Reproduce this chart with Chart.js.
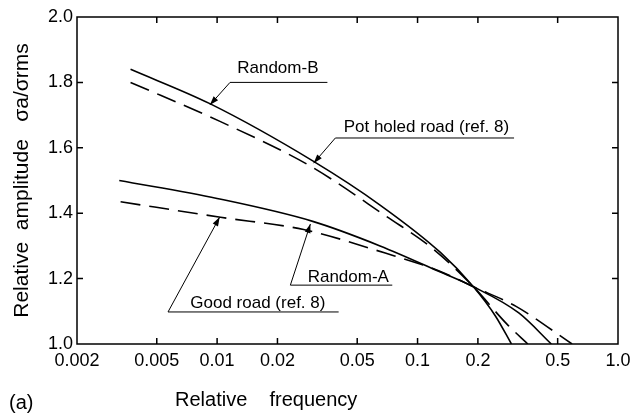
<!DOCTYPE html>
<html>
<head>
<meta charset="utf-8">
<script src="https://cdn.jsdelivr.net/npm/chart.js@4.4.1/dist/chart.umd.min.js"></script>
<style>
  html, body { margin: 0; padding: 0; background: #fff; }
  #wrap { width: 633px; height: 414px; }
</style>
</head>
<body>
<div id="wrap"><canvas id="myChart" width="633" height="414"></canvas></div>
<script>
// axis ticks
const xTicks = [0.002, 0.005, 0.01, 0.02, 0.05, 0.1, 0.2, 0.5, 1.0];
const xTickLabels = ['0.002', '0.005', '0.01', '0.02', '0.05', '0.1', '0.2', '0.5', '1.0'];
const yTicks = [1.0, 1.2, 1.4, 1.6, 1.8, 2.0];
const yTickLabels = ['1.0', '1.2', '1.4', '1.6', '1.8', '2.0'];

// curves
const randomB_x = [0.0037, 0.0092, 0.030, 0.065, 0.13, 0.19, 0.245, 0.294];
const randomB_y = [1.84, 1.735, 1.56, 1.425, 1.28, 1.175, 1.085, 1.0];
const potholed_x = [0.0037, 0.0104, 0.029, 0.07, 0.12, 0.19, 0.28, 0.355];
const potholed_y = [1.80, 1.68, 1.545, 1.39, 1.29, 1.175, 1.06, 1.0];
const randomA_x = [0.00325, 0.01, 0.030, 0.065, 0.13, 0.19, 0.32, 0.465];
const randomA_y = [1.50, 1.445, 1.375, 1.30, 1.22, 1.175, 1.095, 1.0];
const goodroad_x = [0.0033, 0.0104, 0.027, 0.069, 0.13, 0.19, 0.31, 0.59];
const goodroad_y = [1.435, 1.3875, 1.35, 1.278, 1.222, 1.175, 1.115, 1.0];

// callouts (data units)
const noteText = ['Random-B', 'Pot holed road (ref. 8)', 'Random-A', 'Good road (ref. 8)'];
const noteTextX = [0.0126, 0.0428, 0.0283, 0.00735];
const noteTextY = [1.844, 1.664, 1.205, 1.125];
const noteLineX0 = [0.0116, 0.0389, 0.0232, 0.00569];
const noteLineX1 = [0.0355, 0.303, 0.0748, 0.0404];
const noteLineY = [1.80, 1.63, 1.18, 1.098];
const noteTipX = [0.0092, 0.0303, 0.0292, 0.0103];
const noteTipY = [1.731, 1.553, 1.367, 1.388];

function pts(xs, ys) {
  return xs.map((v, i) => ({x: v, y: ys[i]}));
}

const FONT = '"Liberation Sans", Arial, sans-serif';

const frameAndNotes = {
  id: 'frameAndNotes',
  afterDatasetsDraw(chart) {
    const ctx = chart.ctx;
    const a = chart.chartArea;
    const x = chart.scales.x, y = chart.scales.y;
    ctx.save();
    ctx.strokeStyle = '#000';
    ctx.fillStyle = '#000';
    ctx.lineWidth = 1.5;
    ctx.strokeRect(a.left, a.top, a.right - a.left, a.bottom - a.top);

    // inward ticks on all sides
    ctx.beginPath();
    xTicks.slice(1, -1).forEach(function(v) {
      const px = x.getPixelForValue(v);
      ctx.moveTo(px, a.bottom); ctx.lineTo(px, a.bottom - 6);
      ctx.moveTo(px, a.top); ctx.lineTo(px, a.top + 6);
    });
    yTicks.slice(1, -1).forEach(function(v) {
      const py = y.getPixelForValue(v);
      ctx.moveTo(a.left, py); ctx.lineTo(a.left + 6, py);
      ctx.moveTo(a.right, py); ctx.lineTo(a.right - 6, py);
    });
    ctx.stroke();

    // callouts
    ctx.lineWidth = 1;
    ctx.font = '17px ' + FONT;
    ctx.textBaseline = 'middle';
    ctx.textAlign = 'left';
    for (var i = 0; i < noteText.length; i++) {
      ctx.fillText(noteText[i], x.getPixelForValue(noteTextX[i]), y.getPixelForValue(noteTextY[i]));
      const x0 = x.getPixelForValue(noteLineX0[i]);
      const x1 = x.getPixelForValue(noteLineX1[i]);
      const ly = y.getPixelForValue(noteLineY[i]);
      const tx = x.getPixelForValue(noteTipX[i]);
      const ty = y.getPixelForValue(noteTipY[i]);
      ctx.beginPath();
      ctx.moveTo(x1, ly);
      ctx.lineTo(x0, ly);
      ctx.lineTo(tx, ty);
      ctx.stroke();
      // arrow head
      const ang = Math.atan2(ty - ly, tx - x0);
      ctx.beginPath();
      ctx.moveTo(tx, ty);
      ctx.lineTo(tx - 9 * Math.cos(ang) + 3 * Math.sin(ang), ty - 9 * Math.sin(ang) - 3 * Math.cos(ang));
      ctx.lineTo(tx - 9 * Math.cos(ang) - 3 * Math.sin(ang), ty - 9 * Math.sin(ang) + 3 * Math.cos(ang));
      ctx.closePath();
      ctx.fill();
    }

    // x title and panel letter
    ctx.font = '20px ' + FONT;
    ctx.fillText('Relative    frequency', a.left + 98, 400);
    ctx.fillText('(a)', 9, 403);
    ctx.restore();
  }
};

function lineSet(label, data, dashed) {
  return {
    label: label,
    data: data,
    borderColor: '#000',
    backgroundColor: '#000',
    borderWidth: 1.6,
    borderDash: dashed ? [20, 9] : [],
    pointRadius: 0,
    fill: false,
    cubicInterpolationMode: 'monotone'
  };
}

var ctx = document.getElementById('myChart').getContext('2d');
var chart = new Chart(ctx, {
  type: 'line',
  data: {
    datasets: [
      lineSet('Random-B', pts(randomB_x, randomB_y), false),
      lineSet('Pot holed road (ref. 8)', pts(potholed_x, potholed_y), true),
      lineSet('Random-A', pts(randomA_x, randomA_y), false),
      lineSet('Good road (ref. 8)', pts(goodroad_x, goodroad_y), true)
    ]
  },
  options: {
    responsive: false,
    animation: false,
    layout: { padding: { left: 0, right: 15, top: 17, bottom: 0 } },
    plugins: { legend: { display: false }, tooltip: { enabled: false } },
    scales: {
      x: {
        type: 'logarithmic',
        min: 0.002,
        max: 1.0,
        afterBuildTicks: function(s) { s.ticks = xTicks.map(function(v) { return {value: v}; }); },
        afterFit: function(s) { s.height = 70; s.paddingRight = 0; s.paddingLeft = 0; },
        grid: { display: false, drawTicks: false },
        border: { display: false },
        ticks: {
          autoSkip: false, maxRotation: 0, padding: 6, color: '#000',
          font: { family: FONT, size: 18 },
          callback: function(v, i) { return xTickLabels[i]; }
        }
      },
      y: {
        type: 'linear',
        min: 1.0,
        max: 2.0,
        afterBuildTicks: function(s) { s.ticks = yTicks.map(function(v) { return {value: v}; }); },
        afterFit: function(s) { s.width = 77; },
        grid: { display: false, drawTicks: false },
        border: { display: false },
        ticks: {
          padding: 4, color: '#000',
          font: { family: FONT, size: 18 },
          callback: function(v, i) { return yTickLabels[i]; }
        },
        title: {
          display: true,
          text: 'Relative  amplitude   σa/σrms',
          color: '#000',
          font: { family: FONT, size: 21 },
          padding: { top: 10, bottom: 0 }
        }
      }
    }
  },
  plugins: [frameAndNotes]
});
</script>
</body>
</html>
